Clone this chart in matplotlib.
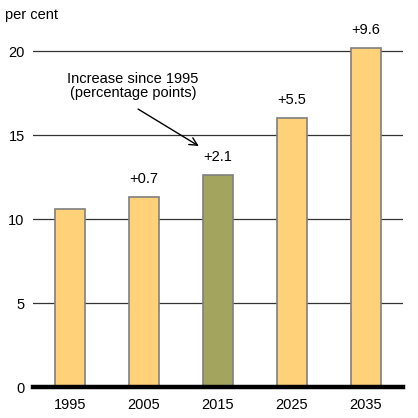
import matplotlib
matplotlib.use('Agg')
import matplotlib.pyplot as plt

years = ['1995', '2005', '2015', '2025', '2035']
values = [10.6, 11.3, 12.6, 16.0, 20.2]
increase_labels = ['', '+0.7', '+2.1', '+5.5', '+9.6']
bar_colors = ['#FFD27A', '#FFD27A', '#A3A55E', '#FFD27A', '#FFD27A']

plt.rcParams['font.family'] = ['Liberation Sans', 'DejaVu Sans']
FS = 10.5

fig = plt.figure(figsize=(4.18, 4.18), dpi=100)
ax = fig.add_axes([0.079, 0.074, 0.885, 0.864])

x = range(len(years))
ax.bar(x, values, width=0.405, color=bar_colors, edgecolor='#7F7F7F',
       linewidth=1.2, zorder=3)

for i, lab in enumerate(increase_labels):
    if lab:
        ax.text(i, values[i] + 0.65, lab, ha='center', va='bottom', fontsize=FS)

ax.set_xlim(-0.5, 4.5)
ax.set_ylim(0, 21.5)
ax.set_yticks([0, 5, 10, 15, 20])
ax.set_xticks(list(x))
ax.set_xticklabels(years)
ax.yaxis.grid(True, color='#333333', linewidth=0.9, zorder=0)
ax.set_axisbelow(True)

for side in ['top', 'right', 'left']:
    ax.spines[side].set_visible(False)
ax.spines['bottom'].set_linewidth(3.2)
ax.spines['bottom'].set_color('black')
ax.spines['bottom'].set_zorder(4)
ax.tick_params(axis='both', length=0, labelsize=FS)
ax.tick_params(axis='x', pad=8)
ax.tick_params(axis='y', pad=6)

# note and its arrow
ax.text(0.85, 17.95, 'Increase since 1995\n(percentage points)',
        ha='center', va='center', fontsize=FS, linespacing=1.0)
ax.annotate('', xy=(1.74, 14.35), xytext=(0.92, 16.55),
            arrowprops=dict(arrowstyle='->', color='black', lw=1,
                            shrinkA=0, shrinkB=0, mutation_scale=14))

fig.text(0.012, 0.98, 'per cent', ha='left', va='top', fontsize=FS)

fig.savefig('out.png', dpi=100)
